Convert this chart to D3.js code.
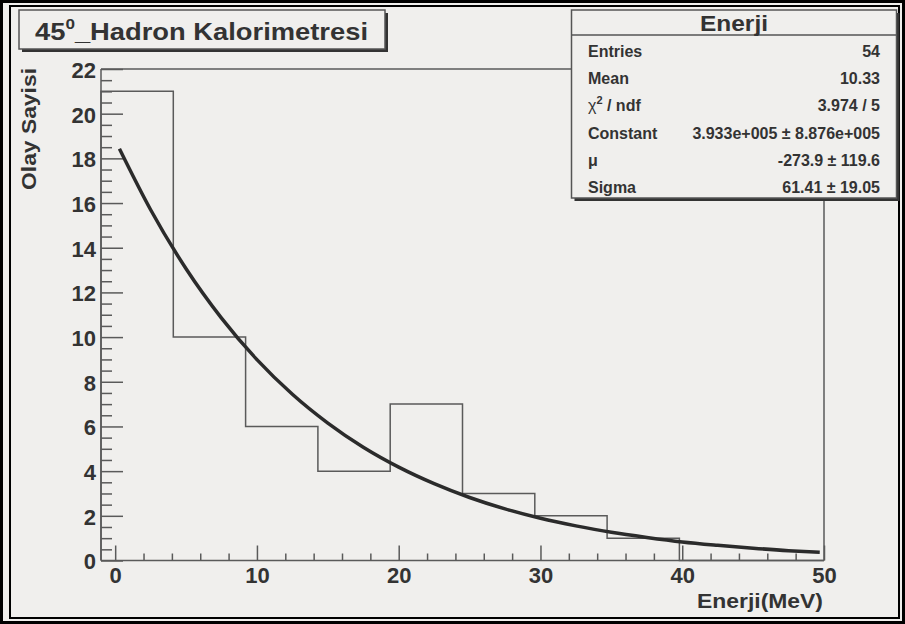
<!DOCTYPE html>
<html>
<head>
<meta charset="utf-8">
<title>45_Hadron Kalorimetresi</title>
<script src="https://cdn.jsdelivr.net/npm/d3@7"></script>
<style>
  body { margin: 0; background: #f0efed; }
  svg { display: block; }
  text { font-family: "Liberation Sans", Arial, sans-serif; font-weight: bold; fill: #333; }
</style>
</head>
<body>
<script>
// histogram: 10 bins on [-1, 50]
const binEdges = [-1, 4.1, 9.2, 14.3, 19.4, 24.5, 29.6, 34.7, 39.8, 44.9, 50];
const binCounts = [21, 10, 6, 4, 7, 3, 2, 1, 0, 0];

// fitted curve
const fitX = [0.3, 2.5, 5, 7.5, 10, 12.5, 15, 17.5, 20, 22.5, 25, 27.5, 30, 32.5, 35, 37.5, 40, 42.5, 45, 47.5, 49.7];
const fitY = [18.43, 15.70, 13.06, 10.85, 8.99, 7.44, 6.15, 5.07, 4.18, 3.44, 2.82, 2.31, 1.89, 1.55, 1.26, 1.03, 0.83, 0.68, 0.55, 0.44, 0.37];

const xMajor = [0, 10, 20, 30, 40, 50];
const yMajor = [0, 2, 4, 6, 8, 10, 12, 14, 16, 18, 20, 22];

const statLabels = ["Entries", "Mean", "χ2 / ndf", "Constant", "μ", "Sigma"];
const statValues = ["54", "10.33", "3.974 / 5", "3.933e+005 ± 8.876e+005", "-273.9 ± 119.6", "61.41 ± 19.05"];

const width = 905, height = 624;
const svg = d3.select('body').append('svg').attr('width', width).attr('height', height);

svg.append('rect').attr('width', width).attr('height', height).attr('fill', '#f0efed');

// window-like double frame
svg.append('rect').attr('x', 1.5).attr('y', 1.5).attr('width', 902).attr('height', 621)
  .attr('fill', 'none').attr('stroke', '#000').attr('stroke-width', 3);
svg.append('rect').attr('x', 10).attr('y', 6).attr('width', 889).attr('height', 612)
  .attr('fill', 'none').attr('stroke', '#000').attr('stroke-width', 2);

const x = d3.scaleLinear().domain([-1, 50]).range([101, 824]);
const y = d3.scaleLinear().domain([0, 22]).range([560.5, 69]);

// frame
const frame = svg.append('g').attr('stroke', '#5a5a5a').attr('stroke-width', 1.5).attr('fill', 'none');
frame.append('line').attr('x1', x(-1)).attr('x2', 572).attr('y1', y(22)).attr('y2', y(22));
frame.append('line').attr('x1', x(50)).attr('x2', x(50)).attr('y1', 198).attr('y2', y(0));

// minor ticks
const yMinor = d3.range(1, 44).map(d => d / 2).filter(d => d % 2 !== 0);
const xMinor = d3.range(0, 51, 2).filter(d => d % 10 !== 0);

svg.append('g').attr('transform', `translate(${x(-1)},0)`)
  .call(d3.axisLeft(y).tickValues(yMinor).tickSize(-11).tickFormat(''))
  .call(g => g.select('.domain').remove())
  .call(g => g.selectAll('line').attr('stroke', '#5a5a5a').attr('stroke-width', 1.5));

svg.append('g').attr('transform', `translate(0,${y(0)})`)
  .call(d3.axisBottom(x).tickValues(xMinor).tickSize(-7).tickFormat(''))
  .call(g => g.select('.domain').remove())
  .call(g => g.selectAll('line').attr('stroke', '#5a5a5a').attr('stroke-width', 1.5));

// major ticks + labels
svg.append('g').attr('transform', `translate(${x(-1)},0)`)
  .call(d3.axisLeft(y).tickValues(yMajor).tickSize(-22).tickPadding(5))
  .call(g => g.select('.domain').remove())
  .call(g => g.selectAll('line').attr('stroke', '#5a5a5a').attr('stroke-width', 1.5))
  .call(g => g.selectAll('text').attr('font-size', 22).attr('dy', '0.38em'));

svg.append('g').attr('transform', `translate(0,${y(0)})`)
  .call(d3.axisBottom(x).tickValues(xMajor).tickSize(-15).tickPadding(7))
  .call(g => g.select('.domain').remove())
  .call(g => g.selectAll('line').attr('stroke', '#5a5a5a').attr('stroke-width', 1.5))
  .call(g => g.selectAll('text').attr('font-size', 22).attr('dy', '0.72em'));

// axis lines
frame.append('line').attr('x1', x(-1)).attr('x2', x(-1)).attr('y1', y(22)).attr('y2', y(0));
frame.append('line').attr('x1', x(-1)).attr('x2', x(50)).attr('y1', y(0)).attr('y2', y(0));

// histogram outline
const steps = [[binEdges[0], 0]];
binCounts.forEach((c, i) => {
  steps.push([binEdges[i], c]);
  steps.push([binEdges[i + 1], c]);
});
steps.push([binEdges[binEdges.length - 1], 0]);
svg.append('path')
  .datum(steps)
  .attr('d', d3.line().x(d => x(d[0])).y(d => y(d[1])))
  .attr('fill', 'none').attr('stroke', '#5a5a5a').attr('stroke-width', 1.5);

// fit
svg.append('path')
  .datum(fitX.map((d, i) => [d, fitY[i]]))
  .attr('d', d3.line().x(d => x(d[0])).y(d => y(d[1])).curve(d3.curveMonotoneX))
  .attr('fill', 'none').attr('stroke', '#2b2b2b').attr('stroke-width', 3.5);

// axis titles
svg.append('text').attr('x', 823).attr('y', 608).attr('text-anchor', 'end')
  .attr('font-size', 21).attr('textLength', 126).attr('lengthAdjust', 'spacingAndGlyphs')
  .text('Enerji(MeV)');
svg.append('text').attr('transform', 'translate(36,68) rotate(-90)').attr('text-anchor', 'end')
  .attr('font-size', 20).attr('textLength', 122).attr('lengthAdjust', 'spacingAndGlyphs')
  .text('Olay Sayisi');

// title box
svg.append('rect').attr('x', 22).attr('y', 13).attr('width', 366).attr('height', 39).attr('fill', '#333');
svg.append('rect').attr('x', 19).attr('y', 10).attr('width', 366).attr('height', 39)
  .attr('fill', '#f0efed').attr('stroke', '#555').attr('stroke-width', 1.5);
const title = svg.append('text').attr('x', 35).attr('y', 40).attr('font-size', 24)
  .attr('textLength', 333).attr('lengthAdjust', 'spacingAndGlyphs');
title.append('tspan').text('45');
title.append('tspan').attr('font-size', 15).attr('dy', -11).text('0');
title.append('tspan').attr('dy', 11).text('_Hadron Kalorimetresi');

// stats box
const sx0 = 571.5, sx1 = 896.5, sy0 = 10, sy1 = 198, sHead = 35;
svg.append('rect').attr('x', sx0 + 3).attr('y', sy0 + 3).attr('width', sx1 - sx0).attr('height', sy1 - sy0).attr('fill', '#333');
svg.append('rect').attr('x', sx0).attr('y', sy0).attr('width', sx1 - sx0).attr('height', sy1 - sy0)
  .attr('fill', '#f0efed').attr('stroke', '#555').attr('stroke-width', 1.5);
svg.append('line').attr('x1', sx0).attr('x2', sx1).attr('y1', sHead).attr('y2', sHead)
  .attr('stroke', '#555').attr('stroke-width', 1.5);
svg.append('text').attr('x', 734).attr('y', 31).attr('text-anchor', 'middle')
  .attr('font-size', 22).attr('textLength', 68).attr('lengthAdjust', 'spacingAndGlyphs').text('Enerji');

const rowH = (sy1 - sHead) / statLabels.length;
statLabels.forEach((lab, i) => {
  const by = sHead + rowH * i + 22;
  const t = svg.append('text').attr('x', 588).attr('y', by).attr('font-size', 16);
  if (lab.startsWith('χ')) {
    t.append('tspan').attr('font-weight', 'normal').text('χ');
    t.append('tspan').attr('font-size', 11).attr('dy', -7).text('2');
    t.append('tspan').attr('dy', 7).text(' / ndf');
  } else if (lab === 'μ') {
    t.attr('font-weight', 'normal').text(lab);
  } else {
    t.text(lab);
  }
  svg.append('text').attr('x', 880).attr('y', by).attr('text-anchor', 'end')
    .attr('font-size', 16).text(statValues[i]);
});
</script>
</body>
</html>
